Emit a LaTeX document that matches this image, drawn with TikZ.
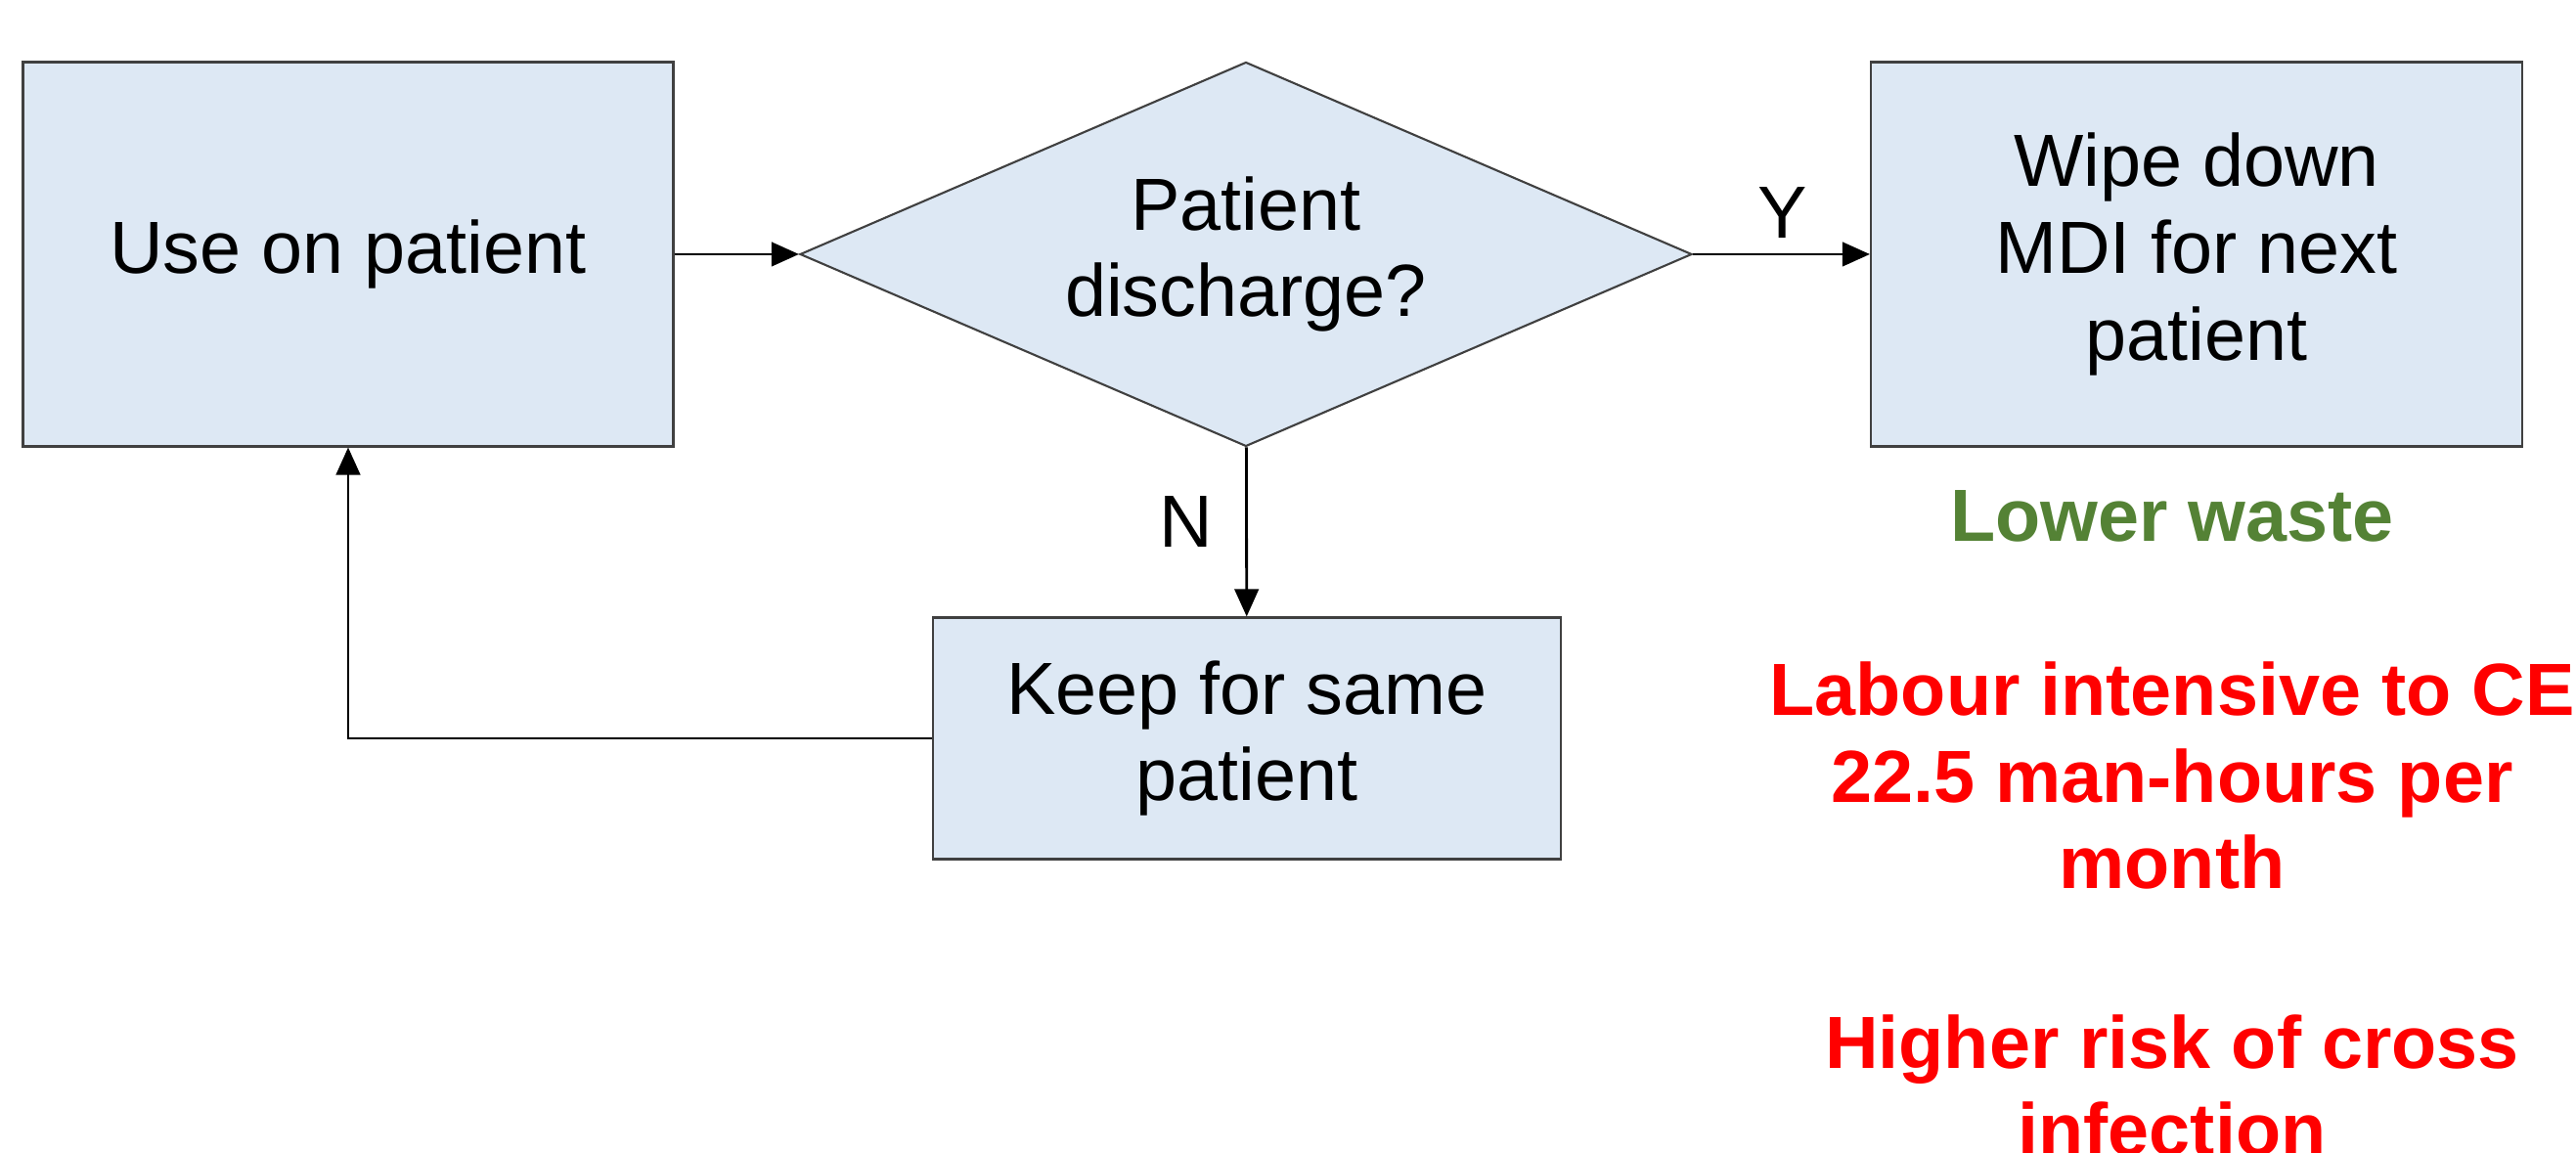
\documentclass[tikz,border=0pt]{standalone}
\usepackage{fontspec}
\setmainfont{Liberation Sans}
\usetikzlibrary{arrows.meta}
\usetikzlibrary{shapes.geometric}

\definecolor{boxfill}{HTML}{DDE8F4}
\definecolor{boxline}{HTML}{404040}
\definecolor{goodgreen}{HTML}{548235}
\definecolor{badred}{HTML}{FF0000}

\tikzset{
    stepbox/.style={draw=boxline, fill=boxfill, line width=0.6pt, align=center, inner sep=0pt},
    flow/.style={-{Triangle[length=8pt, width=7pt]}, line width=0.8pt},
    note/.style={font=\fontsize{21.5}{25.3}\selectfont\bfseries, align=center}
}

\begin{document}
\begin{tikzpicture}[font=\fontsize{21.5}{25.3}\selectfont]

    \useasboundingbox (0,0) rectangle (26.34,11.79);

    % process steps
    \node[stepbox, minimum width=6.65cm, minimum height=3.93cm] (use) at (3.56, 9.19) {\raisebox{-0.08cm}{Use on patient}};
    \node[stepbox, diamond, aspect=2.32, minimum width=9.12cm, minimum height=3.93cm] (dis) at (12.74, 9.19) {Patient\\discharge?};
    \node[stepbox, minimum width=6.66cm, minimum height=3.93cm] (wipe) at (22.46, 9.19) {Wipe down\\MDI for next\\patient};
    \node[stepbox, minimum width=6.42cm, minimum height=2.47cm] (keep) at (12.75, 4.24) {Keep for same\\patient};
    \coordinate (loop) at (3.56, 4.24);

    % connectors
    \draw[flow] (use) -- (dis);
    \draw[flow] (dis) -- (wipe);
    \draw[flow] (dis) -- (keep);
    \draw[flow] (keep.west) -- (loop) -- (use.south);

    \node (yes) at (18.23, 9.61) {Y};
    \node (no) at (12.13, 6.45) {N};

    % outcomes
    \node[note, text=goodgreen] (waste) at (22.21, 6.51) {Lower waste};
    \node[note, text=badred, anchor=north] (labour) at (22.21, 5.15) {Labour intensive to CE\\22.5 man-hours per\\month};
    \node[note, text=badred, anchor=north] (risk) at (22.21, 1.54) {Higher risk of cross\\infection};

\end{tikzpicture}
\end{document}
